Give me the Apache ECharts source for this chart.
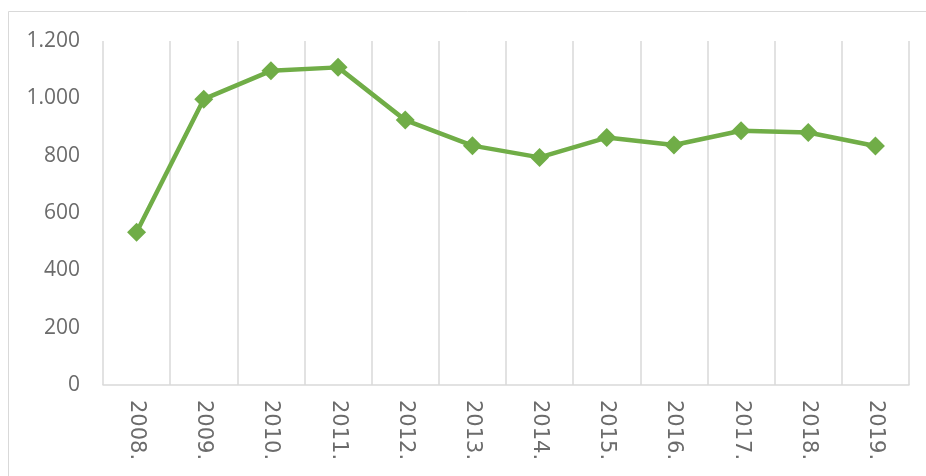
<!DOCTYPE html>
<html>
<head>
<meta charset="utf-8">
<script src="https://cdn.jsdelivr.net/npm/echarts@6/dist/echarts.min.js"></script>
<style>html,body{margin:0;padding:0;background:#fff;}#c{width:926px;height:476px;}</style>
</head>
<body>
<div id="c"></div>
<script>
const categories = ['2008.', '2009.', '2010.', '2011.', '2012.', '2013.', '2014.', '2015.', '2016.', '2017.', '2018.', '2019.'];
const values = [533, 997, 1096, 1108, 924, 835, 794, 863, 837, 887, 881, 834];
const yTicks = [0, 200, 400, 600, 800, 1000, 1200];

const chart = echarts.init(document.getElementById('c'));
chart.setOption({
  animation: false,
  backgroundColor: '#fff',
  graphic: [{
    type: 'rect',
    shape: { x: 8.5, y: 11.5, width: 940, height: 500 },
    style: { fill: 'none', stroke: '#d9d9d9', lineWidth: 1 },
    silent: true
  }],
  grid: { left: 103, right: 17, top: 41, bottom: 91 },
  xAxis: {
    type: 'category',
    data: categories,
    boundaryGap: true,
    axisLine: { show: true, lineStyle: { color: '#d9d9d9', width: 1.5 } },
    axisTick: { show: false },
    splitLine: { show: true, interval: 0, lineStyle: { color: '#d9d9d9', width: 1.5 } },
    axisLabel: {
      interval: 0, rotate: -90, margin: 15,
      color: '#6b6b6b', fontSize: 21, fontFamily: 'DejaVu Sans'
    }
  },
  yAxis: {
    type: 'value',
    min: yTicks[0], max: yTicks[yTicks.length - 1], interval: 200,
    axisLine: { show: false },
    axisTick: { show: false },
    splitLine: { show: false },
    axisLabel: {
      margin: 23, color: '#6b6b6b', fontSize: 21, fontFamily: 'Open Sans',
      formatter: v => String(v).replace(/\B(?=(\d{3})+(?!\d))/g, '.')
    }
  },
  series: [{
    type: 'line',
    data: values,
    symbol: 'diamond',
    symbolSize: 19,
    lineStyle: { color: '#70ad47', width: 4.5 },
    itemStyle: { color: '#70ad47' }
  }]
});
</script>
</body>
</html>
